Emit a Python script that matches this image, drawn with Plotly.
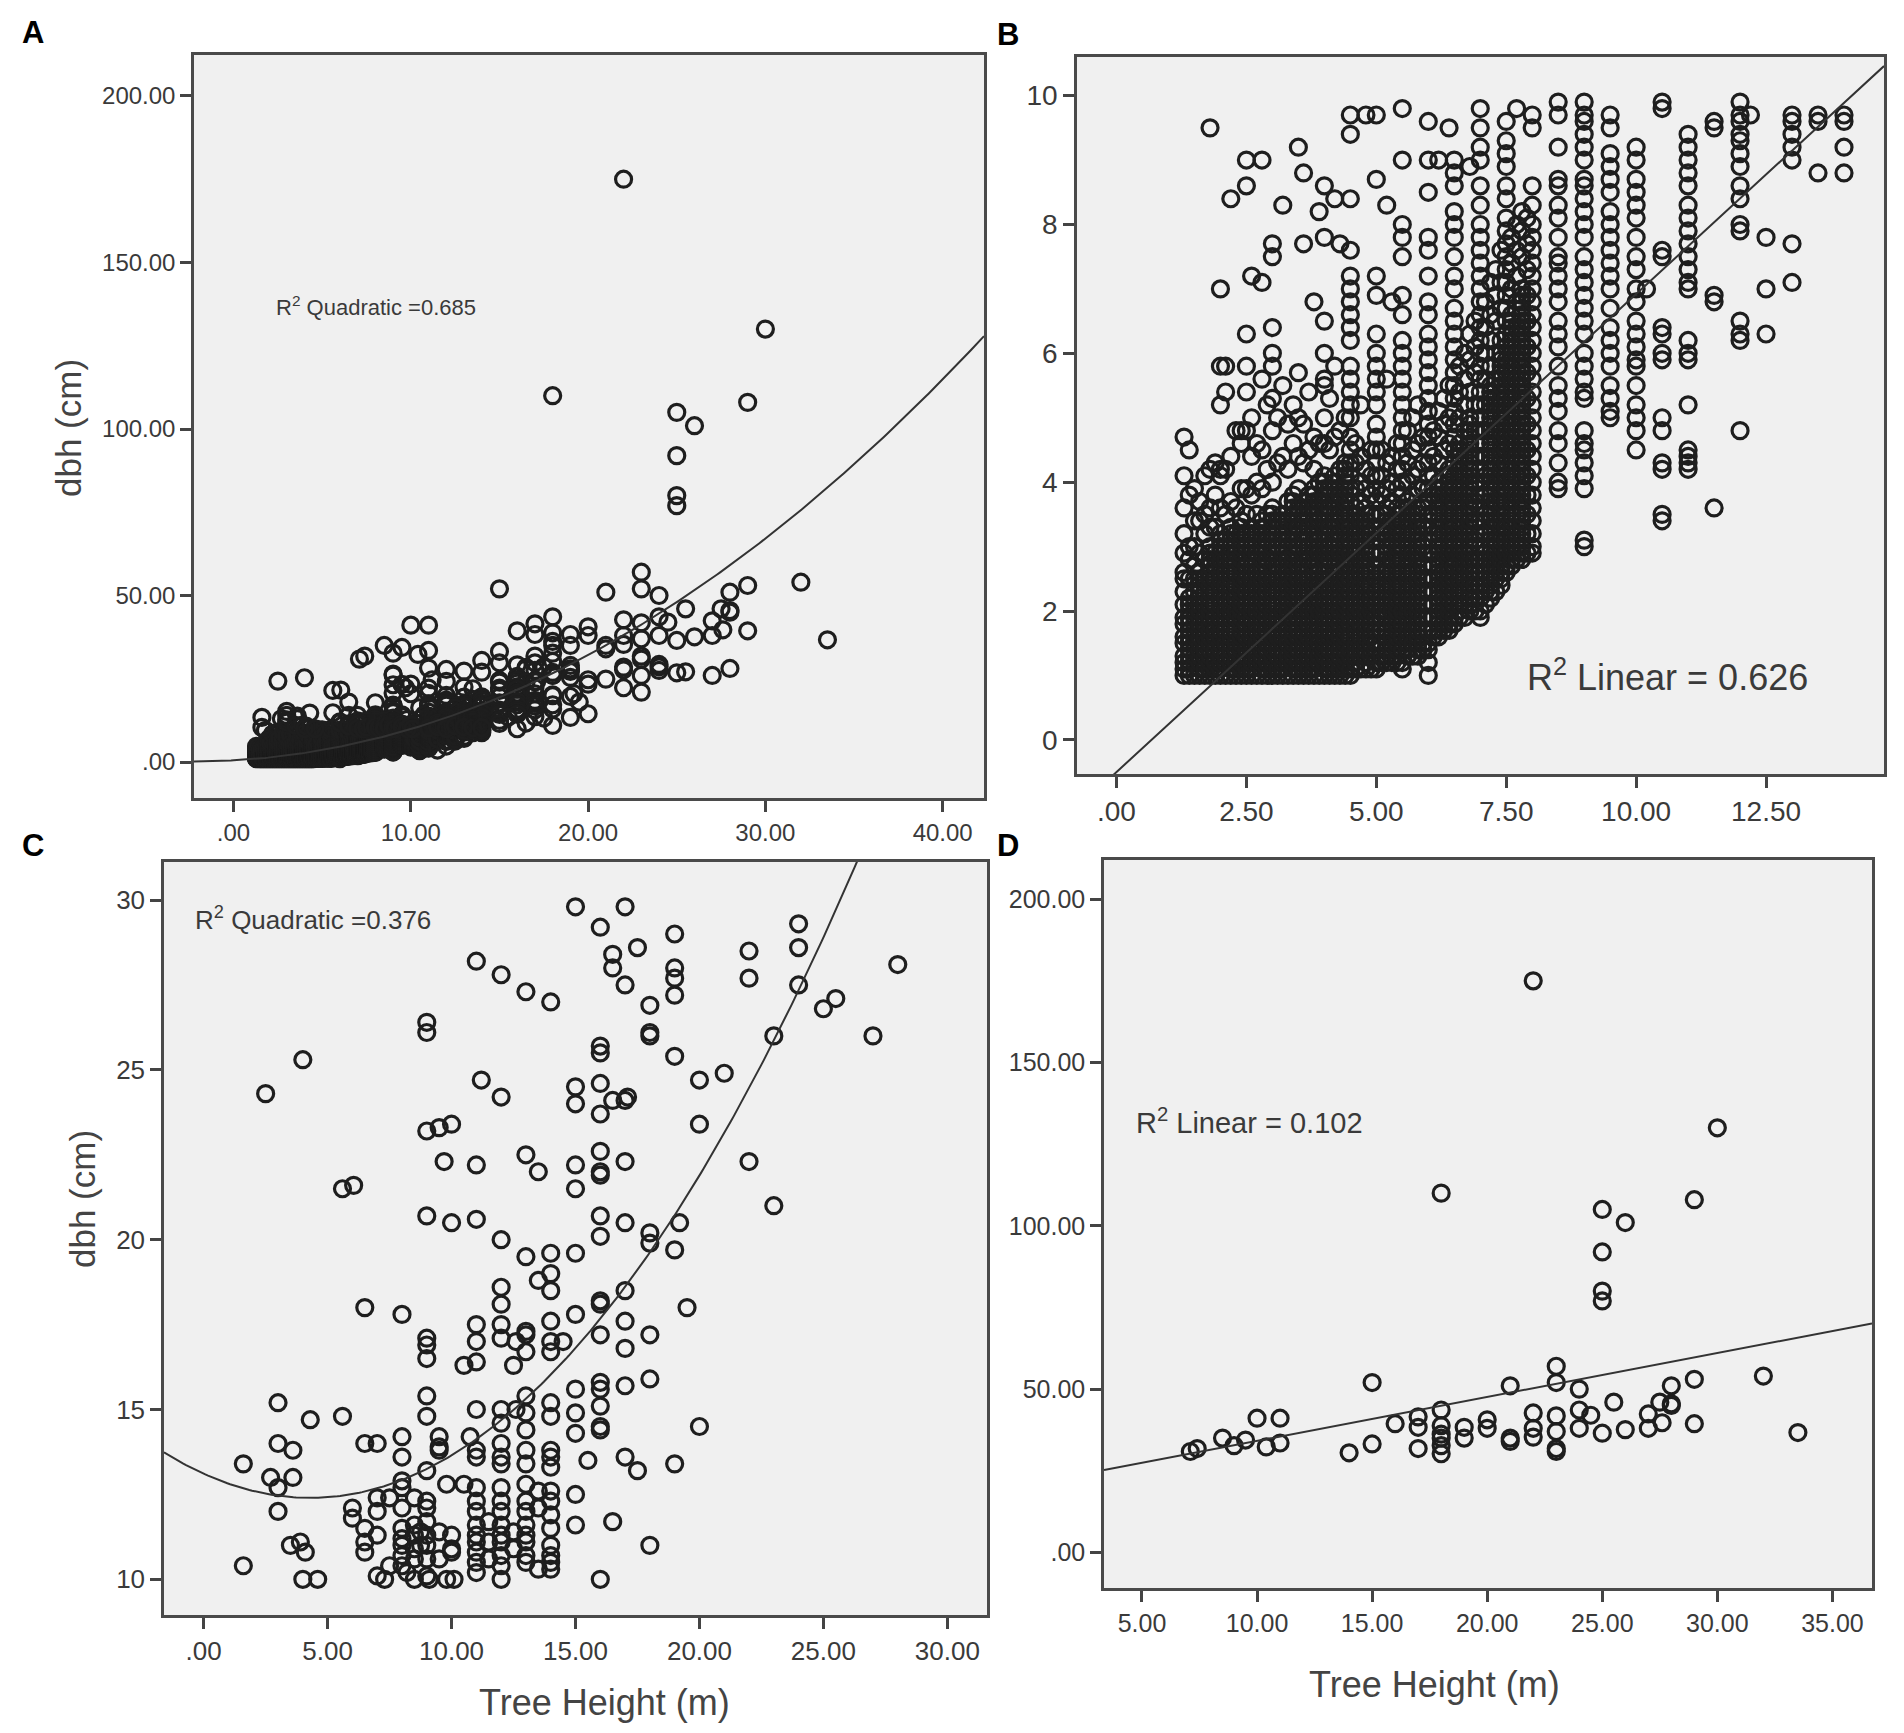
import numpy as np
import plotly.graph_objects as go

# ---- data ---------------------------------------------------------------
# panel B (dbh < 10 cm): one list of dbh values per recorded tree height
b_heights = [1.3, 1.4, 1.5, 1.6, 1.7, 1.8, 1.9, 2.0, 2.1, 2.2, 2.3, 2.4, 2.5, 2.6, 2.7, 2.8, 2.9,
             3.0, 3.1, 3.2, 3.3, 3.4, 3.5, 3.6, 3.7, 3.8, 3.9, 4.0, 4.1, 4.2, 4.3, 4.4,
             4.5, 4.6, 4.7, 4.8, 4.9, 5.0, 5.1, 5.2, 5.3, 5.4, 5.5, 5.6, 5.7, 5.8, 5.9,
             6.0, 6.1, 6.2, 6.3, 6.4, 6.5, 6.6, 6.7, 6.8, 6.9, 7.0, 7.1, 7.2, 7.3, 7.4,
             7.5, 7.6, 7.7, 7.8, 7.9, 8.0, 8.5, 9.0, 9.5, 10.0, 10.2, 10.5, 11.0, 11.5,
             12.0, 12.2, 12.5, 13.0, 13.5, 14.0]
b_dbh = [
    # 1.3 - 2.0
    [1.0, 1.1, 1.2, 1.3, 1.5, 1.6, 1.8, 1.9, 2.1, 2.3, 2.5, 2.6, 2.9, 3.2, 3.6, 4.1, 4.7],
    [1.0, 1.1, 1.2, 1.3, 1.4, 1.5, 1.6, 1.7, 1.8, 1.9, 2.0, 2.1, 2.2, 2.5, 2.8, 3.0, 3.8, 4.5],
    [1.0, 1.2, 1.3, 1.5, 1.6, 1.8, 2.0, 2.1, 2.3, 2.5, 2.7, 3.0, 3.4, 3.9],
    [1.0, 1.1, 1.2, 1.3, 1.4, 1.5, 1.6, 1.7, 1.8, 1.9, 2.0, 2.1, 2.2, 2.3, 2.4, 2.5, 2.6, 2.9, 3.4, 3.7],
    [1.0, 1.1, 1.3, 1.4, 1.6, 1.8, 1.9, 2.1, 2.3, 2.5, 2.8, 3.2, 3.5, 4.1],
    [1.0, 1.1, 1.2, 1.3, 1.4, 1.5, 1.6, 1.7, 1.8, 1.9, 2.0, 2.1, 2.2, 2.3, 2.4, 2.5, 2.6, 2.7, 2.8,
     2.9, 3.0, 3.3, 3.6, 4.2, 9.5],
    [1.0, 1.1, 1.2, 1.4, 1.6, 1.7, 1.9, 2.1, 2.3, 2.5, 2.7, 2.9, 3.3, 3.8, 4.3],
    [1.0, 1.1, 1.2, 1.3, 1.4, 1.5, 1.6, 1.7, 1.8, 1.9, 2.0, 2.1, 2.2, 2.3, 2.4, 2.5, 2.6, 2.7, 2.8,
     2.9, 3.0, 3.1, 3.2, 3.6, 4.1, 4.2, 5.2, 5.8, 7.0],
    # 2.1 - 3.0
    [1.0, 1.2, 1.3, 1.5, 1.7, 1.9, 2.0, 2.2, 2.4, 2.6, 2.8, 3.1, 3.5, 4.2, 5.4, 5.8],
    [1.0, 1.1, 1.2, 1.3, 1.4, 1.5, 1.6, 1.7, 1.8, 1.9, 2.0, 2.1, 2.2, 2.3, 2.4, 2.5, 2.6, 2.7, 2.8,
     2.9, 3.0, 3.1, 3.2, 3.3, 3.7, 4.4, 8.4],
    [1.0, 1.1, 1.2, 1.4, 1.5, 1.7, 1.9, 2.0, 2.2, 2.4, 2.6, 2.9, 3.2, 3.6, 4.8],
    [1.0, 1.1, 1.2, 1.3, 1.4, 1.5, 1.6, 1.7, 1.8, 1.9, 2.0, 2.1, 2.2, 2.3, 2.4, 2.5, 2.6, 2.7, 2.8,
     2.9, 3.0, 3.1, 3.2, 3.3, 3.4, 3.9, 4.6, 4.8],
    [1.0, 1.1, 1.3, 1.4, 1.6, 1.8, 1.9, 2.1, 2.3, 2.5, 2.7, 3.0, 3.2, 3.5, 3.9, 4.8, 5.4, 5.8, 6.3, 8.6, 9.0],
    [1.0, 1.1, 1.2, 1.3, 1.4, 1.5, 1.6, 1.7, 1.8, 1.9, 2.0, 2.1, 2.2, 2.3, 2.4, 2.5, 2.6, 2.7, 2.8,
     2.9, 3.0, 3.1, 3.2, 3.3, 3.8, 4.4, 5.0, 7.2],
    [1.0, 1.2, 1.3, 1.5, 1.7, 1.8, 2.0, 2.2, 2.4, 2.6, 2.9, 3.2, 3.5, 4.0, 4.6],
    [1.0, 1.1, 1.2, 1.3, 1.4, 1.5, 1.6, 1.7, 1.8, 1.9, 2.0, 2.1, 2.2, 2.3, 2.4, 2.5, 2.6, 2.7, 2.8,
     2.9, 3.0, 3.1, 3.2, 3.3, 3.4, 3.9, 4.5, 5.6, 7.1, 9.0],
    [1.0, 1.1, 1.2, 1.4, 1.5, 1.7, 1.9, 2.1, 2.3, 2.5, 2.8, 3.1, 3.5, 4.2, 5.2],
    [1.0, 1.1, 1.2, 1.3, 1.4, 1.5, 1.6, 1.7, 1.8, 1.9, 2.0, 2.1, 2.2, 2.3, 2.4, 2.5, 2.6, 2.7, 2.8,
     2.9, 3.0, 3.1, 3.2, 3.3, 3.4, 3.5, 3.6, 4.0, 4.8, 5.3, 5.8, 6.0, 6.4, 7.5, 7.7],
    # 3.1 - 4.0
    [1.0, 1.1, 1.3, 1.4, 1.6, 1.8, 1.9, 2.1, 2.3, 2.5, 2.7, 3.0, 3.4, 4.3, 5.0],
    [1.0, 1.1, 1.2, 1.3, 1.4, 1.5, 1.6, 1.7, 1.8, 1.9, 2.0, 2.1, 2.2, 2.3, 2.4, 2.5, 2.6, 2.7, 2.8,
     2.9, 3.0, 3.1, 3.2, 3.3, 3.4, 3.5, 4.4, 5.5, 8.3],
    [1.0, 1.2, 1.3, 1.5, 1.7, 1.9, 2.0, 2.2, 2.4, 2.6, 2.8, 3.1, 3.4, 3.7, 4.2, 4.9],
    [1.0, 1.1, 1.2, 1.3, 1.4, 1.5, 1.6, 1.7, 1.8, 1.9, 2.0, 2.1, 2.2, 2.3, 2.4, 2.5, 2.6, 2.7, 2.8,
     2.9, 3.0, 3.1, 3.2, 3.3, 3.4, 3.5, 3.6, 3.7, 3.8, 4.6, 5.2],
    [1.0, 1.1, 1.2, 1.4, 1.6, 1.7, 1.9, 2.1, 2.3, 2.5, 2.7, 3.0, 3.3, 3.6, 3.9, 4.4, 5.0, 5.7, 9.2],
    [1.0, 1.1, 1.2, 1.3, 1.4, 1.5, 1.6, 1.7, 1.8, 1.9, 2.0, 2.1, 2.2, 2.3, 2.4, 2.5, 2.6, 2.7, 2.8,
     2.9, 3.0, 3.1, 3.2, 3.3, 3.4, 3.5, 3.6, 3.7, 4.3, 4.9, 7.7, 8.8],
    [1.0, 1.1, 1.3, 1.4, 1.6, 1.8, 2.0, 2.1, 2.3, 2.5, 2.8, 3.0, 3.3, 3.6, 3.8, 4.5, 5.4],
    [1.0, 1.1, 1.2, 1.3, 1.4, 1.5, 1.6, 1.7, 1.8, 1.9, 2.0, 2.1, 2.2, 2.3, 2.4, 2.5, 2.6, 2.7, 2.8,
     2.9, 3.0, 3.1, 3.2, 3.3, 3.4, 3.5, 3.6, 3.7, 3.8, 3.9, 4.2, 4.7, 6.8],
    [1.0, 1.2, 1.3, 1.5, 1.7, 1.9, 2.0, 2.2, 2.4, 2.6, 2.9, 3.1, 3.4, 3.7, 4.0, 4.6, 8.2],
    [1.0, 1.1, 1.2, 1.3, 1.4, 1.5, 1.6, 1.7, 1.8, 1.9, 2.0, 2.1, 2.2, 2.3, 2.4, 2.5, 2.6, 2.7, 2.8,
     2.9, 3.0, 3.1, 3.2, 3.3, 3.4, 3.5, 3.6, 3.7, 3.8, 3.9, 4.0, 4.1, 4.6, 5.0, 5.5, 5.6, 6.0, 6.5,
     7.8, 8.6],
    # 4.1 - 4.9
    [1.0, 1.1, 1.2, 1.4, 1.6, 1.7, 1.9, 2.1, 2.3, 2.5, 2.8, 3.0, 3.3, 3.6, 3.9, 4.5, 5.3],
    [1.0, 1.1, 1.2, 1.3, 1.4, 1.5, 1.6, 1.7, 1.8, 1.9, 2.0, 2.1, 2.2, 2.3, 2.4, 2.5, 2.6, 2.7, 2.8,
     2.9, 3.0, 3.1, 3.2, 3.3, 3.4, 3.5, 3.6, 3.7, 3.8, 3.9, 4.0, 4.1, 4.7, 5.8, 8.4],
    [1.0, 1.1, 1.3, 1.4, 1.6, 1.8, 2.0, 2.2, 2.4, 2.6, 2.9, 3.2, 3.5, 3.8, 4.2, 4.8, 7.7],
    [1.0, 1.1, 1.2, 1.3, 1.4, 1.5, 1.6, 1.7, 1.8, 1.9, 2.0, 2.1, 2.2, 2.3, 2.4, 2.5, 2.6, 2.7, 2.8,
     2.9, 3.0, 3.1, 3.2, 3.3, 3.4, 3.5, 3.6, 3.7, 3.8, 3.9, 4.0, 4.1, 4.2, 4.3, 5.0],
    [1.0, 1.1, 1.3, 1.4, 1.6, 1.8, 1.9, 2.1, 2.3, 2.5, 2.7, 2.9, 3.1, 3.3, 3.5, 3.7, 3.9, 4.1, 4.3, 4.5,
     4.7, 5.0, 5.2, 5.4, 5.6, 5.8, 6.2, 6.4, 6.6, 6.8, 7.0, 7.2, 7.6, 8.4, 9.4, 9.7],
    [1.1, 1.2, 1.3, 1.4, 1.5, 1.6, 1.7, 1.8, 1.9, 2.0, 2.1, 2.2, 2.3, 2.4, 2.5, 2.6, 2.7, 2.8, 2.9,
     3.0, 3.1, 3.2, 3.3, 3.4, 3.5, 3.6, 3.9, 4.3, 4.6],
    [1.1, 1.3, 1.4, 1.6, 1.8, 2.0, 2.2, 2.4, 2.6, 2.8, 3.1, 3.4, 3.7, 4.0, 4.4, 5.2],
    [1.1, 1.2, 1.3, 1.4, 1.5, 1.6, 1.7, 1.8, 1.9, 2.0, 2.1, 2.2, 2.3, 2.4, 2.5, 2.6, 2.7, 2.8, 2.9,
     3.0, 3.1, 3.2, 3.3, 3.4, 3.5, 3.6, 3.9, 4.2, 9.7],
    [1.1, 1.3, 1.5, 1.6, 1.8, 2.0, 2.2, 2.4, 2.6, 2.9, 3.2, 3.5, 3.8, 4.1, 4.5],
    # 5.0 - 5.9
    [1.1, 1.2, 1.4, 1.5, 1.7, 1.9, 2.1, 2.3, 2.5, 2.7, 2.9, 3.1, 3.3, 3.5, 3.7, 3.9, 4.1, 4.3, 4.5, 4.7,
     4.9, 5.2, 5.4, 5.6, 5.8, 6.0, 6.3, 6.9, 7.2, 8.7, 9.7],
    [1.2, 1.3, 1.5, 1.7, 1.9, 2.0, 2.2, 2.4, 2.6, 2.9, 3.2, 3.5, 3.8, 4.1, 4.5],
    [1.2, 1.3, 1.4, 1.5, 1.6, 1.7, 1.8, 1.9, 2.0, 2.1, 2.2, 2.3, 2.4, 2.5, 2.6, 2.7, 2.8, 2.9, 3.0,
     3.1, 3.2, 3.3, 3.4, 3.5, 3.6, 3.9, 4.3, 5.6, 8.3],
    [1.2, 1.3, 1.5, 1.6, 1.8, 2.0, 2.2, 2.4, 2.6, 2.8, 3.1, 3.4, 3.7, 4.0, 4.4, 6.8],
    [1.2, 1.3, 1.4, 1.5, 1.6, 1.7, 1.8, 1.9, 2.0, 2.1, 2.2, 2.3, 2.4, 2.5, 2.6, 2.7, 2.8, 2.9, 3.0,
     3.1, 3.2, 3.3, 3.4, 3.5, 3.6, 3.9, 4.2, 4.6],
    [1.1, 1.2, 1.4, 1.6, 1.8, 2.0, 2.2, 2.4, 2.6, 2.8, 3.0, 3.2, 3.4, 3.6, 3.8, 4.0, 4.2, 4.4, 4.6, 4.8,
     5.0, 5.2, 5.4, 5.6, 5.8, 6.0, 6.2, 6.6, 6.9, 7.5, 7.8, 8.0, 9.0, 9.8],
    [1.3, 1.4, 1.5, 1.6, 1.7, 1.8, 1.9, 2.0, 2.1, 2.2, 2.3, 2.4, 2.5, 2.6, 2.7, 2.8, 2.9, 3.0, 3.1,
     3.2, 3.3, 3.4, 3.5, 3.6, 3.7, 4.0, 4.3, 4.8],
    [1.3, 1.5, 1.7, 1.8, 2.0, 2.2, 2.4, 2.6, 2.9, 3.2, 3.5, 3.8, 4.1, 4.5, 5.0],
    [1.3, 1.4, 1.5, 1.6, 1.7, 1.8, 1.9, 2.0, 2.1, 2.2, 2.3, 2.4, 2.5, 2.6, 2.7, 2.8, 2.9, 3.0, 3.1,
     3.2, 3.3, 3.4, 3.5, 3.6, 3.9, 4.2, 4.6, 5.2],
    [1.4, 1.5, 1.7, 1.9, 2.1, 2.3, 2.5, 2.7, 3.0, 3.3, 3.6, 3.9, 4.3, 4.7],
    # 6.0 - 6.9
    [1.0, 1.2, 1.4, 1.5, 1.7, 1.9, 2.1, 2.3, 2.5, 2.7, 2.9, 3.1, 3.3, 3.5, 3.7, 3.9, 4.1, 4.3, 4.5, 4.7,
     4.9, 5.1, 5.3, 5.5, 5.7, 5.9, 6.1, 6.3, 6.6, 6.8, 7.2, 7.6, 7.8, 8.5, 9.0, 9.6],
    [1.6, 1.7, 1.9, 2.1, 2.3, 2.5, 2.7, 2.9, 3.2, 3.5, 3.8, 4.1, 4.4, 4.8],
    [1.6, 1.7, 1.8, 1.9, 2.0, 2.1, 2.2, 2.3, 2.4, 2.5, 2.6, 2.7, 2.8, 2.9, 3.0, 3.1, 3.2, 3.3, 3.4,
     3.5, 3.6, 3.7, 3.8, 3.9, 4.0, 4.3, 4.7, 5.1, 9.0],
    [1.7, 1.8, 2.0, 2.2, 2.4, 2.6, 2.9, 3.2, 3.5, 3.8, 4.1, 4.5, 4.9, 5.3],
    [1.7, 1.8, 1.9, 2.0, 2.1, 2.2, 2.3, 2.4, 2.5, 2.6, 2.7, 2.8, 2.9, 3.0, 3.1, 3.2, 3.3, 3.4, 3.5,
     3.6, 3.7, 3.8, 3.9, 4.0, 4.1, 4.2, 4.6, 5.0, 5.5, 9.5],
    [1.8, 1.9, 2.1, 2.3, 2.5, 2.7, 2.9, 3.1, 3.3, 3.5, 3.7, 3.9, 4.1, 4.3, 4.5, 4.7, 4.9, 5.1, 5.3, 5.5,
     5.7, 5.9, 6.1, 6.3, 6.5, 6.7, 7.0, 7.2, 7.5, 7.8, 8.0, 8.2, 8.6, 8.8, 9.0],
    [1.9, 2.0, 2.1, 2.2, 2.3, 2.4, 2.5, 2.6, 2.7, 2.8, 2.9, 3.0, 3.1, 3.2, 3.3, 3.4, 3.5, 3.6, 3.7,
     3.8, 3.9, 4.0, 4.1, 4.2, 4.3, 4.4, 4.5, 4.6, 5.0, 5.4, 5.8],
    [1.9, 2.1, 2.3, 2.5, 2.7, 2.9, 3.2, 3.5, 3.8, 4.1, 4.4, 4.8, 5.2, 5.6, 6.0],
    [2.0, 2.1, 2.2, 2.3, 2.4, 2.5, 2.6, 2.7, 2.8, 2.9, 3.0, 3.1, 3.2, 3.3, 3.4, 3.5, 3.6, 3.7, 3.8,
     3.9, 4.0, 4.1, 4.2, 4.3, 4.4, 4.5, 4.6, 4.7, 4.8, 4.9, 5.0, 5.4, 5.9, 6.3, 8.9],
    [2.0, 2.2, 2.4, 2.6, 2.8, 3.1, 3.4, 3.7, 4.0, 4.4, 4.8, 5.2, 5.7, 6.1, 6.5],
    # 7.0 - 8.0
    [1.9, 2.0, 2.2, 2.4, 2.6, 2.8, 3.0, 3.2, 3.4, 3.6, 3.8, 4.0, 4.2, 4.4, 4.6, 4.8, 5.0, 5.2, 5.4, 5.6,
     5.8, 6.0, 6.2, 6.4, 6.6, 6.8, 7.0, 7.2, 7.4, 7.6, 7.8, 8.0, 8.3, 8.6, 9.0, 9.2, 9.5, 9.8],
    [2.1, 2.3, 2.5, 2.7, 2.9, 3.2, 3.5, 3.8, 4.1, 4.4, 4.8, 5.2, 5.6, 6.0, 6.4, 6.8],
    [2.2, 2.3, 2.4, 2.5, 2.6, 2.7, 2.8, 2.9, 3.0, 3.1, 3.2, 3.3, 3.4, 3.5, 3.6, 3.7, 3.8, 3.9, 4.0,
     4.1, 4.2, 4.3, 4.4, 4.5, 4.6, 4.7, 4.8, 4.9, 5.0, 5.1, 5.2, 5.3, 5.4, 5.5, 5.8, 6.2, 6.6, 7.1],
    [2.3, 2.5, 2.7, 2.9, 3.1, 3.4, 3.7, 4.0, 4.4, 4.8, 5.2, 5.6, 6.0, 6.5, 6.9, 7.3],
    [2.4, 2.5, 2.6, 2.7, 2.8, 2.9, 3.0, 3.1, 3.2, 3.3, 3.4, 3.5, 3.6, 3.7, 3.8, 3.9, 4.0, 4.1, 4.2,
     4.3, 4.4, 4.5, 4.6, 4.7, 4.8, 4.9, 5.0, 5.1, 5.2, 5.3, 5.4, 5.5, 5.6, 5.7, 5.8, 5.9, 6.0, 6.2,
     6.7, 7.1, 7.6],
    [2.6, 2.7, 2.9, 3.1, 3.3, 3.5, 3.7, 3.9, 4.1, 4.3, 4.5, 4.7, 4.9, 5.1, 5.3, 5.5, 5.7, 5.9, 6.1, 6.3,
     6.5, 6.7, 6.9, 7.1, 7.3, 7.5, 7.7, 7.9, 8.1, 8.4, 8.6, 8.9, 9.1, 9.3, 9.6],
    [2.7, 2.8, 2.9, 3.0, 3.1, 3.2, 3.3, 3.4, 3.5, 3.6, 3.7, 3.8, 3.9, 4.0, 4.1, 4.2, 4.3, 4.4, 4.5,
     4.6, 4.7, 4.8, 4.9, 5.0, 5.1, 5.2, 5.3, 5.4, 5.5, 5.6, 5.7, 5.8, 5.9, 6.0, 6.1, 6.2, 6.3, 6.4,
     6.5, 6.6, 7.0, 7.4, 7.8],
    [2.8, 3.0, 3.2, 3.5, 3.8, 4.1, 4.4, 4.8, 5.2, 5.6, 6.0, 6.4, 6.8, 7.2, 7.6, 8.0, 9.8],
    [2.8, 2.9, 3.0, 3.1, 3.2, 3.3, 3.4, 3.5, 3.6, 3.7, 3.8, 3.9, 4.0, 4.1, 4.2, 4.3, 4.4, 4.5, 4.6,
     4.7, 4.8, 4.9, 5.0, 5.1, 5.2, 5.3, 5.4, 5.5, 5.6, 5.7, 5.8, 5.9, 6.0, 6.1, 6.2, 6.3, 6.4, 6.5,
     6.6, 6.7, 6.8, 6.9, 7.0, 7.5, 7.9, 8.2],
    [2.9, 3.2, 3.5, 3.8, 4.1, 4.5, 4.9, 5.3, 5.7, 6.1, 6.5, 6.9, 7.3, 7.7, 8.1],
    [2.9, 3.0, 3.2, 3.4, 3.6, 3.8, 4.0, 4.2, 4.4, 4.6, 4.8, 5.0, 5.2, 5.4, 5.6, 5.8, 6.0, 6.2, 6.4, 6.6,
     6.8, 7.0, 7.2, 7.4, 7.6, 7.8, 8.0, 8.3, 8.6, 9.5, 9.7],
    # 8.5 and taller
    [3.9, 4.0, 4.3, 4.6, 4.8, 5.1, 5.3, 5.5, 5.8, 6.1, 6.3, 6.5, 6.8, 7.0, 7.2, 7.4, 7.5, 7.8, 8.1, 8.3,
     8.6, 8.7, 9.2, 9.7, 9.9],
    [3.0, 3.1, 3.9, 4.1, 4.3, 4.5, 4.6, 4.8, 5.3, 5.4, 5.6, 5.8, 6.0, 6.3, 6.5, 6.7, 6.9, 7.1, 7.3, 7.5,
     7.8, 8.0, 8.2, 8.4, 8.6, 8.7, 9.0, 9.2, 9.4, 9.6, 9.7, 9.9],
    [5.0, 5.1, 5.3, 5.5, 5.8, 6.0, 6.2, 6.4, 6.7, 7.0, 7.2, 7.4, 7.6, 7.8, 8.0, 8.2, 8.5, 8.7, 8.9, 9.1,
     9.5, 9.7],
    [4.5, 4.8, 5.0, 5.2, 5.5, 5.8, 5.9, 6.1, 6.3, 6.5, 6.8, 7.0, 7.3, 7.5, 7.8, 8.1, 8.3, 8.5, 8.7, 9.0, 9.2],
    [7.0],
    [3.4, 3.5, 4.2, 4.3, 4.8, 5.0, 5.9, 6.0, 6.3, 6.4, 7.5, 7.6, 9.8, 9.9],
    [4.2, 4.3, 4.4, 4.5, 5.2, 5.9, 6.0, 6.2, 7.0, 7.1, 7.3, 7.5, 7.7, 7.9, 8.1, 8.3, 8.6, 8.8, 9.0, 9.2, 9.4],
    [3.6, 6.8, 6.9, 9.5, 9.6],
    [4.8, 6.2, 6.3, 6.5, 7.9, 8.0, 8.4, 8.6, 8.9, 9.1, 9.3, 9.4, 9.6, 9.7, 9.9],
    [9.7],
    [6.3, 7.0, 7.8],
    [7.1, 7.7, 9.0, 9.2, 9.4, 9.6, 9.7],
    [8.8, 9.6, 9.7],
    [8.8, 9.2, 9.6, 9.7],
]

# panel C (dbh 10-30 cm): (height m, dbh cm)
c_points = [
    (15, 29.8), (17, 29.8), (16, 29.2), (19, 29.0), (24, 29.3), (24, 28.6), (16.5, 28.4), (16.5, 28.0),
    (17.5, 28.6), (22, 28.5), (22, 27.7), (11, 28.2), (12, 27.8), (13, 27.3), (14, 27.0), (17, 27.5),
    (19, 28.0), (19, 27.7), (19, 27.2), (18, 26.9), (18, 26.1), (18, 26.0), (24, 27.5), (25, 26.8),
    (25.5, 27.1), (23, 26.0), (27, 26.0), (28, 28.1), (9, 26.4), (9, 26.1), (4, 25.3), (2.5, 24.3),
    (16, 25.7), (16, 25.5), (19, 25.4), (20, 24.7), (21, 24.9), (11.2, 24.7), (12, 24.2), (15, 24.5),
    (15, 24.0), (16, 24.6), (16, 23.7), (16.5, 24.1), (17.1, 24.2), (17, 24.1), (9, 23.2), (9.5, 23.3),
    (10, 23.4), (20, 23.4), (9.7, 22.3), (11, 22.2), (13, 22.5), (13.5, 22.0), (15, 22.2), (15, 21.5),
    (16, 22.6), (16, 22.0), (16, 21.9), (17, 22.3), (22, 22.3), (5.6, 21.5), (6.05, 21.6), (9, 20.7),
    (10, 20.5), (11, 20.6), (12, 20.0), (16, 20.7), (16, 20.1), (17, 20.5), (18, 20.2), (18, 19.9),
    (19.2, 20.5), (19, 19.7), (23, 21.0), (13, 19.5), (14, 19.6), (14, 19.0), (13.5, 18.8), (14, 18.5),
    (15, 19.6), (12, 18.6), (12, 18.1), (16, 18.2), (16, 18.1), (17, 18.5), (6.5, 18.0), (8, 17.8),
    (19.5, 18.0), (9, 17.1), (9, 16.9), (9, 16.5), (11, 17.5), (11, 17.0), (12, 17.5), (12, 17.1),
    (13, 17.3), (13, 17.2), (12.6, 17.0), (13, 16.7), (14, 17.6), (14, 17.0), (14, 16.7), (14.5, 17.0),
    (15, 17.8), (16, 17.2), (17, 17.6), (17, 16.8), (18, 17.2), (10.5, 16.3), (11, 16.4), (12.5, 16.3),
    (18, 15.9), (16, 15.8), (16, 15.6), (15, 15.6), (17, 15.7), (9, 15.4), (9, 14.8), (11, 15.0),
    (12, 15.0), (12, 14.6), (12.6, 15.0), (13, 15.4), (13, 14.9), (13, 14.4), (14, 15.2), (14, 14.8),
    (15, 14.9), (15, 14.3), (16, 15.1), (16, 14.5), (16, 14.4), (20, 14.5), (3, 15.2), (4.3, 14.7),
    (5.6, 14.8), (3, 14.0), (3.6, 13.8), (1.6, 13.4), (2.7, 13.0), (3.6, 13.0), (3, 12.7), (3, 12.0),
    (3.5, 11.0), (3.9, 11.1), (4.1, 10.8), (1.6, 10.4), (4, 10.0), (4.6, 10.0), (6.5, 14.0), (7, 14.0),
    (8, 14.2), (8, 13.6), (9.5, 14.2), (9.5, 13.9), (9.5, 13.8), (10.75, 14.2), (11, 13.8), (11, 13.6),
    (12, 14.0), (12, 13.6), (12, 13.4), (13, 13.8), (13, 13.4), (14, 13.8), (14, 13.6), (14, 13.3),
    (15.5, 13.5), (17, 13.6), (17.5, 13.2), (19, 13.4), (9, 13.2), (8, 12.9), (8, 12.7), (9.8, 12.8),
    (10.5, 12.8), (11, 12.7), (12, 12.7), (13, 12.8), (13.5, 12.6), (14, 12.6), (15, 12.5), (7, 12.4),
    (7.5, 12.4), (8.5, 12.4), (9, 12.3), (11, 12.3), (12, 12.3), (13, 12.3), (14, 12.3), (6, 12.1),
    (6, 11.8), (7, 12.0), (8, 12.1), (9, 12.1), (11, 12.0), (12, 12.0), (13, 12.0), (13.5, 12.1),
    (14, 11.9), (15, 11.6), (16.5, 11.7), (18, 11.0), (6.5, 11.5), (6.5, 11.1), (6.5, 10.8), (7, 11.3),
    (7, 10.1), (7.3, 10.0), (7.5, 10.4), (8, 11.5), (8, 11.2), (8, 11.0), (8, 10.7), (8, 10.4),
    (8.2, 10.2), (8.5, 11.6), (8.5, 11.3), (8.5, 10.9), (8.5, 10.6), (8.5, 10.0), (8.75, 11.4),
    (8.75, 11.0), (9, 11.7), (9, 11.3), (9, 11.0), (9, 10.6), (9, 10.1), (9.1, 10.0), (9.5, 11.4),
    (9.5, 10.6), (10, 10.8), (10, 10.9), (10, 11.3), (9.8, 10.0), (10.1, 10.0), (11, 11.6), (11, 11.3),
    (11, 11.1), (11, 10.8), (11, 10.5), (11, 10.2), (11.5, 11.7), (11.5, 11.1), (11.5, 10.6), (12, 11.6),
    (12, 11.3), (12, 11.1), (12, 10.7), (12, 10.4), (12, 10.0), (12.5, 11.4), (12.5, 10.9), (13, 11.6),
    (13, 11.3), (13, 11.1), (13, 10.7), (13, 10.5), (13.5, 10.3), (14, 11.5), (14, 11.0), (14, 10.7),
    (14, 10.5), (14, 10.3), (16, 10.0),
]

# panel D (dbh >= 30 cm): (height m, dbh cm)
d_points = [
    (22, 175), (30, 130), (18, 110), (29, 108), (25, 105), (26, 101), (25, 92), (25, 80), (25, 77),
    (15, 52), (21, 51), (23, 57), (23, 52), (24, 50), (29, 53), (32, 54), (28, 51), (25.5, 46),
    (27.5, 46), (28, 45.5), (28, 45), (27, 42.4), (27, 38), (27.6, 39.7), (29, 39.4), (33.5, 36.7),
    (26, 37.6), (25, 36.5), (24.5, 42), (24, 43.6), (24, 38), (23, 41.8), (23, 37), (23, 31.8),
    (23, 30.9), (22, 42.7), (22, 38), (22, 35.3), (21, 35), (21, 34), (20, 40.6), (20, 38), (19, 38.3),
    (19, 35), (18, 43.6), (18, 38.8), (18, 36.2), (18, 35), (18, 32.7), (18, 30.2), (17, 41.5),
    (17, 38.3), (17, 31.8), (16, 39.4), (15, 33.2), (14, 30.5), (11, 41.1), (11, 33.5), (10, 41.1),
    (10.4, 32.3), (9.5, 34.4), (9, 32.7), (8.5, 35), (7.4, 31.8), (7.1, 30.9),
]

# fitted curves as printed by SPSS: intercept, linear, quadratic term
fit_a = [0.5, 0.3, 0.064]
fit_b = [-0.50, 0.742, 0.0]
fit_c = [13.11, -0.331, 0.0385]
fit_d = [20.7, 1.345, 0.0]

# ---- assemble -----------------------------------------------------------
b_x = [h for h, col in zip(b_heights, b_dbh) for _ in col]
b_y = [v for col in b_dbh for v in col]
c_x = [p[0] for p in c_points]
c_y = [p[1] for p in c_points]
d_x = [p[0] for p in d_points]
d_y = [p[1] for p in d_points]
# panel A shows every tree
a_x = b_x + c_x + d_x
a_y = b_y + c_y + d_y

W, H, OFF = 1888, 1717, 8      # page body keeps an 8px margin


def fx(p):
    return (p - OFF) / W


def fy(p):
    return 1 - (p - OFF) / H


INK = '#1e1e1e'
TXT = '#3a3a3a'
FONT = 'Liberation Sans, Arial, sans-serif'
marker = dict(symbol='circle-open', size=16, color=INK, line=dict(width=3.2, color=INK))

panels = [
    # axis suffix, x, y, fit, xrange, yrange
    ('', a_x, a_y, fit_a, [-2.23, 42.33], [-10.8, 212.3]),
    ('2', b_x, b_y, fit_b, [-0.76, 14.77], [-0.53, 10.6]),
    ('3', c_x, c_y, fit_c, [-1.6, 31.6], [8.95, 31.12]),
    ('4', d_x, d_y, fit_d, [3.35, 36.72], [-10.9, 212.0]),
]

fig = go.Figure()
for suffix, xs, ys, fit, xr, yr in panels:
    fig.add_trace(go.Scatter(x=xs, y=ys, mode='markers', marker=marker,
                             xaxis='x' + suffix, yaxis='y' + suffix, hoverinfo='skip'))
    gx = np.linspace(xr[0], xr[1], 300)
    gy = fit[0] + fit[1] * gx + fit[2] * gx ** 2
    fig.add_trace(go.Scatter(x=gx, y=gy, mode='lines', line=dict(color='#333', width=2),
                             xaxis='x' + suffix, yaxis='y' + suffix, hoverinfo='skip'))


def axis(domain, rng, vals, text, size, anchor):
    return dict(domain=domain, range=rng, tickvals=vals, ticktext=text, anchor=anchor,
                ticks='outside', ticklen=11, tickwidth=2.5, tickcolor='#444',
                showgrid=False, zeroline=False, showline=True, mirror=True,
                linecolor='#4a4a4a', linewidth=2.5,
                tickfont=dict(family=FONT, size=size, color=TXT))


def fmt2(vals):
    return ['.00' if v == 0 else f'{v:.2f}' for v in vals]


ax_a = [0, 10, 20, 30, 40]
ay_a = [0, 50, 100, 150, 200]
ax_b = [0, 2.5, 5, 7.5, 10, 12.5]
ay_b = [0, 2, 4, 6, 8, 10]
ax_c = [0, 5, 10, 15, 20, 25, 30]
ay_c = [10, 15, 20, 25, 30]
ax_d = [5, 10, 15, 20, 25, 30, 35]
ay_d = [0, 50, 100, 150, 200]

fig.update_layout(
    width=W, height=H, showlegend=False,
    margin=dict(l=0, r=0, t=0, b=0),
    paper_bgcolor='white', plot_bgcolor='#f0f0f0',
    xaxis=axis([fx(194), fx(984)], [-2.23, 42.33], ax_a, fmt2(ax_a), 24, 'y'),
    yaxis=axis([fy(798), fy(55)], [-10.8, 212.3], ay_a, fmt2(ay_a), 24, 'x'),
    xaxis2=axis([fx(1077), fx(1884)], [-0.76, 14.77], ax_b, fmt2(ax_b), 28, 'y2'),
    yaxis2=axis([fy(774), fy(57)], [-0.53, 10.6], ay_b, [str(v) for v in ay_b], 28, 'x2'),
    xaxis3=axis([fx(164), fx(987)], [-1.6, 31.6], ax_c, fmt2(ax_c), 26, 'y3'),
    yaxis3=axis([fy(1615), fy(862)], [8.95, 31.12], ay_c, [str(v) for v in ay_c], 26, 'x3'),
    xaxis4=axis([fx(1104), fx(1872)], [3.35, 36.72], ax_d, fmt2(ax_d), 25, 'y4'),
    yaxis4=axis([fy(1588), fy(860)], [-10.9, 212.0], ay_d, fmt2(ay_d), 25, 'x4'),
)

notes = [
    # panel letters
    dict(text='<b>A</b>', x=fx(33), y=fy(33), size=31, color='black'),
    dict(text='<b>B</b>', x=fx(1008), y=fy(35), size=31, color='black'),
    dict(text='<b>C</b>', x=fx(33), y=fy(846), size=31, color='black'),
    dict(text='<b>D</b>', x=fx(1008), y=fy(846), size=31, color='black'),
    # axis titles
    dict(text='dbh (cm)', x=fx(68), y=fy(428), size=35, color='#444', angle=-90),
    dict(text='dbh (cm)', x=fx(82), y=fy(1199), size=35, color='#444', angle=-90),
    dict(text='Tree Height (m)', x=fx(604), y=fy(1702), size=36, color='#444'),
    dict(text='Tree Height (m)', x=fx(1434), y=fy(1684), size=36, color='#444'),
]
annotations = []
for n in notes:
    annotations.append(dict(text=n['text'], x=n['x'], y=n['y'], xref='paper', yref='paper',
                            xanchor='center', yanchor='middle',
                            showarrow=False, textangle=n.get('angle', 0),
                            font=dict(family=FONT, size=n['size'], color=n['color'])))

r2 = [
    ('R<sup>2</sup> Quadratic =0.685', 'x', 'y', 2.28, 137, 22),
    ('R<sup>2</sup> Linear = 0.626', 'x2', 'y2', 7.86, 1.0, 36),
    ('R<sup>2</sup> Quadratic =0.376', 'x3', 'y3', -0.43, 29.45, 26),
    ('R<sup>2</sup> Linear = 0.102', 'x4', 'y4', 4.65, 132, 29),
]
for text, xr, yr, x, y, size in r2:
    annotations.append(dict(text=text, x=x, y=y, xref=xr, yref=yr, xanchor='left',
                            yanchor='middle', showarrow=False,
                            font=dict(family=FONT, size=size, color=TXT)))

fig.update_layout(annotations=annotations)
fig.write_html("out.html")
